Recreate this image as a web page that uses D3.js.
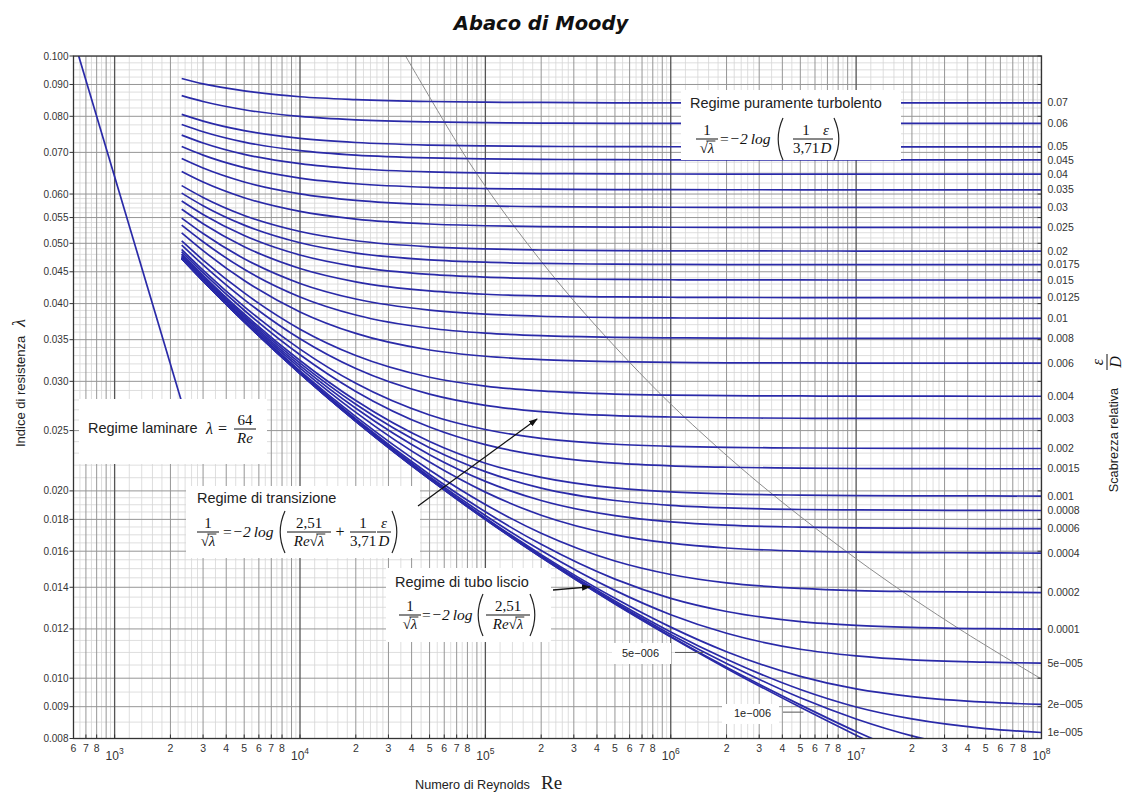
<!DOCTYPE html>
<html>
<head>
<meta charset="utf-8">
<script src="https://cdn.jsdelivr.net/npm/d3@7"></script>
<style>
  body { margin: 0; background: #fff; }
  svg { display: block; }
</style>
</head>
<body>
<svg id="chart" width="1131" height="794"></svg>
<script>
// Reynolds numbers at which each friction curve is sampled
const reSamples = [2300, 3000, 5000, 1e4, 2e4, 5e4, 1e5, 2e5, 5e5, 1e6, 2e6, 5e6, 1e7, 2e7, 5e7, 1e8];

// relative roughness of each curve (0 = smooth pipe)
const roughness = [0.07, 0.06, 0.05, 0.045, 0.04, 0.035, 0.03, 0.025, 0.02, 0.0175, 0.015, 0.0125,
  0.01, 0.008, 0.006, 0.004, 0.003, 0.002, 0.0015, 0.001, 0.0008, 0.0006, 0.0004, 0.0002, 0.0001,
  5e-5, 2e-5, 1e-5, 5e-6, 1e-6, 0];

// right-hand labels (first 28 curves)
const roughnessLabels = ["0.07", "0.06", "0.05", "0.045", "0.04", "0.035", "0.03", "0.025", "0.02",
  "0.0175", "0.015", "0.0125", "0.01", "0.008", "0.006", "0.004", "0.003", "0.002", "0.0015", "0.001",
  "0.0008", "0.0006", "0.0004", "0.0002", "0.0001", "5e\u2212005", "2e\u2212005", "1e\u2212005"];

// friction factor λ of every curve at the Reynolds numbers above
const lambdaByRoughness = [
  [.0920, .0902, .0879, .0860, .0851, .0845, .0843, .0842, .0841, .0841, .0841, .0841, .0841, .0841, .0841, .0841],
  [.08635, .08449, .08196, .07997, .07895, .07834, .07813, .07802, .07796, .07794, .07793, .07792, .07792, .07792, .07792, .07792],
  [.08058, .07860, .07587, .07371, .07260, .07192, .07169, .07157, .07151, .07148, .07147, .07146, .07146, .07146, .07146, .07146],
  [.07762, .07557, .07272, .07046, .06929, .06857, .06833, .06821, .06814, .06811, .06810, .06809, .06809, .06809, .06809, .06809],
  [.07461, .07247, .06949, .06713, .06588, .06511, .06486, .06472, .06465, .06462, .06460, .06459, .06459, .06459, .06459, .06459],
  [.07155, .06930, .06617, .06366, .06233, .06150, .06123, .06109, .06100, .06097, .06096, .06095, .06095, .06095, .06095, .06095],
  [.06842, .06606, .06274, .06005, .05861, .05772, .05742, .05726, .05717, .05714, .05712, .05711, .05711, .05711, .05711, .05711],
  [.06521, .06271, .05918, .05626, .05468, .05370, .05336, .05319, .05309, .05306, .05304, .05303, .05302, .05302, .05302, .05302],
  [.06190, .05925, .05543, .05223, .05047, .04936, .04898, .04878, .04867, .04863, .04861, .04860, .04859, .04859, .04859, .04859],
  [.06021, .05746, .05348, .05010, .04823, .04703, .04662, .04641, .04628, .04624, .04621, .04620, .04619, .04619, .04619, .04619],
  [.05849, .05564, .05147, .04788, .04587, .04456, .04411, .04388, .04374, .04369, .04367, .04366, .04365, .04365, .04365, .04365],
  [.05672, .05376, .04938, .04555, .04336, .04192, .04141, .04116, .04100, .04095, .04092, .04090, .04090, .04089, .04089, .04089],
  [.05489, .05184, .04723, .04310, .04068, .03905, .03847, .03817, .03799, .03793, .03790, .03788, .03788, .03787, .03787, .03787],
  [.05347, .05028, .04541, .04100, .03835, .03651, .03586, .03552, .03531, .03524, .03520, .03518, .03517, .03517, .03517, .03517],
  [.05197, .04866, .04356, .03879, .03582, .03369, .03292, .03251, .03226, .03217, .03213, .03211, .03210, .03209, .03209, .03209],
  [.05045, .04699, .04161, .03639, .03301, .03046, .02948, .02895, .02862, .02851, .02845, .02842, .02840, .02840, .02839, .02839],
  [.04966, .04616, .04060, .03511, .03145, .02861, .02745, .02682, .02642, .02629, .02622, .02617, .02615, .02615, .02614, .02614],
  [.04887, .04527, .03956, .03380, .02978, .02649, .02510, .02429, .02377, .02359, .02350, .02344, .02342, .02341, .02340, .02340],
  [.04848, .04484, .03903, .03310, .02890, .02533, .02373, .02279, .02216, .02194, .02183, .02176, .02173, .02172, .02171, .02171],
  [.04808, .04442, .03850, .03240, .02794, .02401, .02216, .02103, .02022, .01993, .01978, .01969, .01965, .01964, .01963, .01962],
  [.04797, .04423, .03827, .03209, .02756, .02347, .02148, .02021, .01930, .01896, .01878, .01867, .01864, .01862, .01861, .01860],
  [.04774, .04406, .03805, .03179, .02715, .02287, .02072, .01930, .01825, .01784, .01762, .01749, .01744, .01742, .01740, .01740],
  [.04759, .04388, .03783, .03150, .02674, .02225, .01991, .01828, .01700, .01648, .01619, .01601, .01595, .01592, .01590, .01589],
  [.04744, .04370, .03761, .03119, .02632, .02161, .01902, .01710, .01543, .01468, .01423, .01394, .01383, .01378, .01375, .01373],
  [.04736, .04361, .03750, .03103, .02610, .02125, .01851, .01641, .01443, .01344, .01280, .01233, .01216, .01207, .01201, .01199],
  [.04733, .04357, .03745, .03096, .02600, .02108, .01826, .01604, .01384, .01265, .01181, .01113, .01086, .01070, .01061, .01057],
  [.04729, .04353, .03742, .03091, .02592, .02097, .01810, .01580, .01344, .01208, .01103, .01007, .00961, .00934, .00915, .00908],
  [.04728, .04352, .03741, .03090, .02590, .02093, .01804, .01572, .01331, .01187, .01073, .00959, .00899, .00860, .00830, .00818],
  [.04727, .04352, .03741, .03089, .02589, .02091, .01802, .01568, .01323, .01176, .01056, .00930, .00860, .00808, .00765, .00747],
  [.04727, .04351, .03740, .03088, .02588, .02089, .01800, .01565, .01318, .01167, .01041, .00906, .00821, .00752, .00681, .00643],
  [.04727, .04351, .03740, .03088, .02588, .02089, .01799, .01564, .01316, .01165, .01037, .00898, .00810, .00734, .00649, .00594]
];

// laminar flow line
const laminarRe = [640, 2300];
const laminarLambda = [0.1, 0.0278];

// limit of the fully rough zone
const roughLimitRe = [3.71e4, 7.56e4, 1.07e5, 1.68e5, 3.09e5, 7.53e5, 1.42e6, 3.36e6, 1.185e7, 3.60e7, 9.83e7];
const roughLimitLambda = [0.1, 0.07, 0.06, 0.05, 0.04, 0.03, 0.025, 0.02, 0.015, 0.012, 0.010];

// axis ticks
const yTicks = [0.008, 0.009, 0.010, 0.012, 0.014, 0.016, 0.018, 0.020, 0.025, 0.030, 0.035,
  0.040, 0.045, 0.050, 0.055, 0.060, 0.070, 0.080, 0.090, 0.100];
const xMantissas = [1, 2, 3, 4, 5, 6, 7, 8, 9];
const xLabelMantissas = [1, 2, 3, 4, 5, 6, 7, 8];
const xDecades = [100, 1e3, 1e4, 1e5, 1e6, 1e7];
const xMinorMantissas = [1.2, 1.4, 1.6, 1.8, 2.2, 2.4, 2.6, 2.8, 3.5, 4.5, 5.5, 6.5, 7.5, 8.5, 9.5];

const svg = d3.select("#chart");
const plot = { left: 73.5, right: 1041.5, top: 56, bottom: 738.5 };

const x = d3.scaleLog().domain([600, 1e8]).range([plot.left, plot.right]);
const y = d3.scaleLog().domain([0.008, 0.1]).range([plot.bottom, plot.top]);

const SANS = "'Liberation Sans', Arial, sans-serif";
const SERIF = "'Liberation Serif', 'Times New Roman', serif";
const BLUE = "#2a2aa8";

svg.append("defs").append("clipPath").attr("id", "plotClip")
  .append("rect")
  .attr("x", plot.left).attr("y", plot.top)
  .attr("width", plot.right - plot.left).attr("height", plot.bottom - plot.top);

svg.append("rect").attr("width", 1131).attr("height", 794).attr("fill", "#fff");

// ---- grid ----
const grid = svg.append("g").attr("clip-path", "url(#plotClip)");

// horizontal minor lines
const yMinor = [];
for (let v = 0.0085; v < 0.02; v += 0.0005) yMinor.push(+v.toFixed(5));
for (let v = 0.021; v < 0.06; v += 0.001) yMinor.push(+v.toFixed(4));
for (let v = 0.0625; v < 0.1; v += 0.0025) yMinor.push(+v.toFixed(4));
grid.selectAll("line.hmin").data(yMinor.filter(v => !yTicks.some(t => Math.abs(t - v) < 1e-6)))
  .join("line")
  .attr("x1", plot.left).attr("x2", plot.right)
  .attr("y1", d => y(d)).attr("y2", d => y(d))
  .attr("stroke", "#d6d6d6").attr("stroke-width", 0.8);

// vertical minor lines
const xMinor = [];
xDecades.forEach(d => xMinorMantissas.forEach(m => {
  const v = m * d;
  if (v > 600 && v < 1e8) xMinor.push(v);
}));
grid.selectAll("line.vmin").data(xMinor).join("line")
  .attr("x1", d => x(d)).attr("x2", d => x(d))
  .attr("y1", plot.top).attr("y2", plot.bottom)
  .attr("stroke", "#d6d6d6").attr("stroke-width", 0.8);

// horizontal major lines
grid.selectAll("line.hmaj").data(yTicks).join("line")
  .attr("x1", plot.left).attr("x2", plot.right)
  .attr("y1", d => y(d)).attr("y2", d => y(d))
  .attr("stroke", "#969696").attr("stroke-width", 1);

// vertical major lines
const xMajor = [];
xDecades.forEach(d => xMantissas.forEach(m => {
  const v = m * d;
  if (v >= 600 && v <= 1e8) xMajor.push({ v, m });
}));
xMajor.push({ v: 1e8, m: 1 });
grid.selectAll("line.vmaj").data(xMajor).join("line")
  .attr("x1", d => x(d.v)).attr("x2", d => x(d.v))
  .attr("y1", plot.top).attr("y2", plot.bottom)
  .attr("stroke", d => d.m === 1 ? "#555" : "#969696")
  .attr("stroke-width", d => d.m === 1 ? 1.3 : 1);

// ---- curves ----
const curves = svg.append("g").attr("clip-path", "url(#plotClip)");

const logLine = d3.line()
  .x(d => x(d[0]))
  .y(d => y(d[1]))
  .curve(d3.curveMonotoneX);

// fully rough limit
curves.append("path")
  .attr("d", d3.line().x(d => x(d[0])).y(d => y(d[1])).curve(d3.curveCatmullRom)(
    roughLimitRe.map((r, i) => [r, roughLimitLambda[i]])))
  .attr("fill", "none").attr("stroke", "#8c8c8c").attr("stroke-width", 1);

// laminar line
curves.append("path")
  .attr("d", logLine(laminarRe.map((r, i) => [r, laminarLambda[i]])))
  .attr("fill", "none").attr("stroke", BLUE).attr("stroke-width", 1.7);

// Colebrook curves
curves.selectAll("path.fric").data(lambdaByRoughness).join("path")
  .attr("class", "fric")
  .attr("d", vals => logLine(reSamples.map((r, i) => [r, vals[i]])))
  .attr("fill", "none").attr("stroke", BLUE).attr("stroke-width", 1.7);

// ---- annotations ----
const ann = svg.append("g");

function box(x0, y0, x1, y1) {
  ann.append("rect").attr("x", x0).attr("y", y0).attr("width", x1 - x0).attr("height", y1 - y0)
    .attr("fill", "#fff");
}
function label(tx, ty, str, size) {
  ann.append("text").attr("x", tx).attr("y", ty)
    .attr("font-family", SANS).attr("font-size", size || 14.5).attr("fill", "#222").text(str);
}
function serif(tx, ty, str, size, anchor, italic) {
  return ann.append("text").attr("x", tx).attr("y", ty)
    .attr("font-family", SERIF).attr("font-size", size || 15)
    .attr("font-style", italic === false ? "normal" : "italic")
    .attr("text-anchor", anchor || "start").attr("fill", "#111").text(str);
}
function bar(cx, cy, w) {
  ann.append("line").attr("x1", cx - w / 2).attr("x2", cx + w / 2).attr("y1", cy).attr("y2", cy)
    .attr("stroke", "#111").attr("stroke-width", 1);
}
// radical with an overbar above λ; optional italic prefix (e.g. "Re")
function radical(cx, base, prefix) {
  const t = ann.append("text").attr("x", cx).attr("y", base)
    .attr("font-family", SERIF).attr("font-size", 15).attr("text-anchor", "middle").attr("fill", "#111");
  if (prefix) t.append("tspan").attr("font-style", "italic").text(prefix);
  t.append("tspan").text("\u221A");
  t.append("tspan").attr("font-style", "italic").text("\u03BB");
  const bb = t.node().getBBox();
  ann.append("line").attr("x1", bb.x + bb.width - 8.5).attr("x2", bb.x + bb.width + 0.5)
    .attr("y1", base - 12).attr("y2", base - 12).attr("stroke", "#111").attr("stroke-width", 0.9);
}
function fraction(cx, cy, num, den, w, denIsRadical, prefix) {
  bar(cx, cy, w);
  serif(cx, cy - 4, num, 15, "middle", num === "\u03B5");
  if (denIsRadical) radical(cx, cy + 14, prefix);
  else serif(cx, cy + 14, den, 15, "middle", den === "D" || den === "Re");
}
// thin tall parenthesis drawn as a curve; dir = -1 opening, +1 closing
function paren(px, cy, dir) {
  const h = 21, bulge = 6;
  const xe = px + (dir < 0 ? bulge : 0), xm = px + (dir < 0 ? -bulge * 0.6 : bulge * 1.6);
  ann.append("path")
    .attr("d", `M${xe},${cy - h} Q${xm},${cy} ${xe},${cy + h}`)
    .attr("fill", "none").attr("stroke", "#222").attr("stroke-width", 1.2);
}

// fully turbulent regime
box(681, 90, 901, 160);
label(690, 108, "Regime puramente turbolento");
fraction(707, 139, "1", null, 22, true);
serif(719, 143.5, "=\u22122\u2009log", 15.5);
paren(777, 139, -1);
fraction(806, 139, "1", "3,71", 26);
fraction(826, 139, "\u03B5", "D", 14);
paren(834, 139, 1);

// laminar regime
box(79, 399, 267, 464);
label(88, 433, "Regime laminare");
serif(206, 434, "\u03BB", 16);
serif(218, 434, "=", 16, "start", false);
fraction(245, 429, "64", "Re", 22);

// transition regime
box(186, 486, 420, 558);
label(197, 503, "Regime di transizione");
fraction(208, 532, "1", null, 22, true);
serif(222, 536.5, "=\u22122\u2009log", 15.5);
paren(279, 532, -1);
fraction(309, 532, "2,51", null, 44, true, "Re");
serif(340, 536.5, "+", 16, "middle", false);
fraction(363, 532, "1", "3,71", 26);
fraction(384, 532, "\u03B5", "D", 14);
paren(392, 532, 1);

// smooth pipe regime
box(386, 568, 551, 642);
label(395, 587, "Regime di tubo liscio");
fraction(410, 615, "1", null, 22, true);
serif(421, 619.5, "=\u22122\u2009log", 15.5);
paren(477, 615, -1);
fraction(508, 615, "2,51", null, 44, true, "Re");
paren(530, 615, 1);

// arrows
svg.append("defs").append("marker").attr("id", "arrowHead")
  .attr("viewBox", "0 0 10 10").attr("refX", 9).attr("refY", 5)
  .attr("markerWidth", 9).attr("markerHeight", 9).attr("orient", "auto")
  .attr("markerUnits", "userSpaceOnUse")
  .append("path").attr("d", "M0,1.5 L10,5 L0,8.5 Z").attr("fill", "#111");

ann.append("line").attr("x1", 418).attr("y1", 506)
  .attr("x2", x(1.9e5)).attr("y2", y(0.0261))
  .attr("stroke", "#111").attr("stroke-width", 1.3).attr("marker-end", "url(#arrowHead)");
ann.append("line").attr("x1", 553).attr("y1", 590)
  .attr("x2", x(3.67e5)).attr("y2", y(0.01402))
  .attr("stroke", "#111").attr("stroke-width", 1.3).attr("marker-end", "url(#arrowHead)");

// labels of the two finest roughness curves
box(612, 643, 671, 664);
label(622, 657, "5e\u2212006", 11);
ann.append("line").attr("x1", 675).attr("x2", x(1.5e6))
  .attr("y1", y(0.0110)).attr("y2", y(0.0110)).attr("stroke", "#555").attr("stroke-width", 1);
box(722, 704, 779, 724);
label(734, 717, "1e\u2212006", 11);
ann.append("line").attr("x1", 783).attr("x2", x(5.2e6))
  .attr("y1", y(0.00882)).attr("y2", y(0.00882)).attr("stroke", "#555").attr("stroke-width", 1);

// ---- frame ----
svg.append("rect").attr("x", plot.left).attr("y", plot.top)
  .attr("width", plot.right - plot.left).attr("height", plot.bottom - plot.top)
  .attr("fill", "none").attr("stroke", "#333").attr("stroke-width", 1.3);

// ---- y axis ----
const yAxis = svg.append("g");
yAxis.selectAll("line").data(yTicks).join("line")
  .attr("x1", plot.left - 4).attr("x2", plot.left)
  .attr("y1", d => y(d)).attr("y2", d => y(d))
  .attr("stroke", "#333");
yAxis.selectAll("line.r").data(yTicks).join("line").attr("class", "r")
  .attr("x1", plot.right - 4).attr("x2", plot.right)
  .attr("y1", d => y(d)).attr("y2", d => y(d))
  .attr("stroke", "#333");
yAxis.selectAll("text").data(yTicks).join("text")
  .attr("x", plot.left - 5).attr("y", d => y(d)).attr("dy", "0.35em")
  .attr("text-anchor", "end").attr("font-family", SANS).attr("font-size", 10)
  .attr("fill", "#333").text(d3.format(".3f"));

// ---- x axis ----
const xAxis = svg.append("g");
const xTickData = [];
xDecades.forEach(d => xLabelMantissas.forEach(m => {
  const v = m * d;
  if (v >= 600 && v <= 1e8) xTickData.push({ v, m, e: Math.round(Math.log10(d)) });
}));
xTickData.push({ v: 1e8, m: 1, e: 8 });
xAxis.selectAll("line").data(xTickData).join("line")
  .attr("x1", d => x(d.v)).attr("x2", d => x(d.v))
  .attr("y1", plot.bottom).attr("y2", plot.bottom - 4).attr("stroke", "#333");
xTickData.forEach(d => {
  if (d.m === 1) {
    const t = xAxis.append("text").attr("x", x(d.v)).attr("y", 760)
      .attr("text-anchor", "middle").attr("font-family", SANS).attr("font-size", 12).attr("fill", "#333");
    t.append("tspan").text("10");
    t.append("tspan").attr("font-size", 8.5).attr("dy", -6).text(d.e);
  } else {
    xAxis.append("text").attr("x", x(d.v)).attr("y", 752)
      .attr("text-anchor", "middle").attr("font-family", SANS).attr("font-size", 10.5)
      .attr("fill", "#333").text(d.m);
  }
});

// ---- right roughness labels ----
svg.append("g").selectAll("text").data(roughnessLabels).join("text")
  .attr("x", plot.right + 6)
  .attr("y", (d, i) => y(lambdaByRoughness[i][reSamples.length - 1]))
  .attr("dy", "0.35em")
  .attr("font-family", SANS).attr("font-size", 10.5).attr("fill", "#333")
  .text(d => d);

// ---- titles ----
svg.append("text").attr("x", 541).attr("y", 30).attr("text-anchor", "middle")
  .attr("font-family", "'DejaVu Sans', Verdana, sans-serif").attr("font-size", 19.5)
  .attr("font-weight", "bold").attr("font-style", "italic").attr("fill", "#111")
  .text("Abaco di Moody");

const xl = svg.append("text").attr("x", 415).attr("y", 789)
  .attr("font-family", SANS).attr("font-size", 12.7).attr("fill", "#222");
xl.append("tspan").text("Numero di Reynolds");
xl.append("tspan").attr("dx", 11).attr("font-family", SERIF).attr("font-size", 19).text("Re");

const yl = svg.append("text").attr("transform", "translate(25,383) rotate(-90)")
  .attr("text-anchor", "middle").attr("font-family", SANS).attr("font-size", 13).attr("fill", "#222");
yl.append("tspan").text("Indice di resistenza");
yl.append("tspan").attr("dx", 9).attr("font-family", SERIF).attr("font-style", "italic")
  .attr("font-size", 18).text("\u03BB");

const rl = svg.append("g").attr("transform", "translate(1118,440) rotate(-90)");
rl.append("text").attr("x", 0).attr("y", 0).attr("text-anchor", "middle")
  .attr("font-family", SANS).attr("font-size", 12.7).attr("fill", "#222").text("Scabrezza relativa");
rl.append("line").attr("x1", 70).attr("x2", 86).attr("y1", -11).attr("y2", -11)
  .attr("stroke", "#111").attr("stroke-width", 1);
rl.append("text").attr("x", 78).attr("y", -15).attr("text-anchor", "middle")
  .attr("font-family", SERIF).attr("font-style", "italic").attr("font-size", 16).attr("fill", "#111").text("\u03B5");
rl.append("text").attr("x", 78).attr("y", 3).attr("text-anchor", "middle")
  .attr("font-family", SERIF).attr("font-style", "italic").attr("font-size", 16).attr("fill", "#111").text("D");
</script>
</body>
</html>
